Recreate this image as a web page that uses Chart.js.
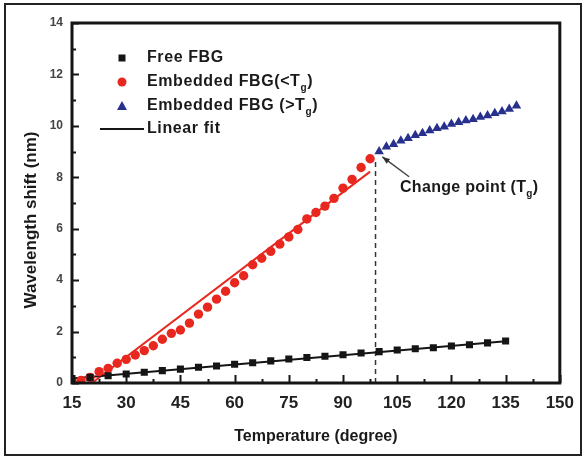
<!DOCTYPE html>
<html>
<head>
<meta charset="utf-8">
<script src="https://cdn.jsdelivr.net/npm/chart.js@4.4.1/dist/chart.umd.min.js"></script>
<style>
html,body{margin:0;padding:0;background:#fff;}
canvas{display:block;}
</style>
</head>
<body>
<canvas id="c" width="584" height="460"></canvas>
<script>
// ---- data ----
const freeT = [15,20,25,30,35,40,45,50,55,60,65,70,75,80,85,90,95,100,105,110,115,120,125,130,135];
const freeShift = [0.17,0.22,0.28,0.35,0.42,0.48,0.54,0.61,0.66,0.73,0.79,0.86,0.93,0.99,1.04,1.10,1.17,1.22,1.28,1.33,1.37,1.44,1.49,1.56,1.63];

const embLowT = [15,17.5,20,22.5,25,27.5,30,32.5,35,37.5,40,42.5,45,47.5,50,52.5,55,57.5,60,62.5,65,67.5,70,72.5,75,77.5,80,82.5,85,87.5,90,92.5,95,97.5];
const embLowShift = [0.05,0.1,0.22,0.44,0.57,0.77,0.92,1.09,1.26,1.45,1.7,1.93,2.06,2.33,2.68,2.95,3.26,3.57,3.9,4.17,4.6,4.85,5.12,5.4,5.68,5.97,6.38,6.63,6.88,7.18,7.58,7.92,8.38,8.72];

const embHighT = [100,102,104,106,108,110,112,114,116,118,120,122,124,126,128,130,132,134,136,138];
const embHighShift = [9.0,9.19,9.28,9.42,9.52,9.63,9.71,9.82,9.91,9.97,10.07,10.14,10.21,10.26,10.34,10.40,10.49,10.56,10.66,10.78];

const fitFreeT = [15,135];
const fitFreeShift = [0.17,1.62];
const fitEmbT = [20.5,97.5];
const fitEmbShift = [0,8.22];

const tgT = [99,99];
const tgShift = [0,8.6];

const arrowT = [108.3,100.9];
const arrowShift = [8.02,8.79];

const xTickLabels = [15,30,45,60,75,90,105,120,135,150];
const yTickLabels = [0,2,4,6,8,10,12,14];

const legendLabels = [
  [{t:'Free FBG'}],
  [{t:'Embedded FBG(<T'},{t:'g',sub:true},{t:')'}],
  [{t:'Embedded FBG (>T'},{t:'g',sub:true},{t:')'}],
  [{t:'Linear fit'}]
];
const annoLabel = [{t:'Change point (T'},{t:'g',sub:true},{t:')'}];

const xTitle = 'Temperature (degree)';
const yTitle = 'Wavelength shift (nm)';

const RED = '#e8281f', BLUE = '#28308e', BLACK = '#151515';
const FONT = '"Liberation Sans", Arial, sans-serif';

function pts(xs, ys){ return xs.map((x,i)=>({x:x, y:ys[i]})); }

function drawRich(ctx, parts, x, y, size){
  ctx.textBaseline = 'middle';
  ctx.textAlign = 'left';
  let cx = x;
  for (const p of parts){
    if (p.sub){
      ctx.font = 'bold ' + Math.round(size*0.6) + 'px ' + FONT;
      ctx.fillText(p.t, cx, y + size*0.4);
    } else {
      ctx.font = 'bold ' + size + 'px ' + FONT;
      ctx.fillText(p.t, cx, y);
    }
    cx += ctx.measureText(p.t).width;
  }
}

const decor = {
  id: 'decor',
  beforeDraw(chart){
    const ctx = chart.ctx;
    ctx.save();
    ctx.fillStyle = '#fff';
    ctx.fillRect(0,0,chart.width,chart.height);
    ctx.restore();
  },
  afterDraw(chart){
    const ctx = chart.ctx;
    const a = chart.chartArea;
    const xs = chart.scales.x, ys = chart.scales.y;
    ctx.save();
    // frame
    ctx.strokeStyle = BLACK;
    ctx.lineWidth = 3;
    ctx.strokeRect(a.left, a.top, a.right - a.left, a.bottom - a.top);
    // inward ticks
    ctx.lineWidth = 2;
    for (let v = 15; v <= 150.01; v += 7.5){
      const px = Math.round(xs.getPixelForValue(v)) + 0.5;
      const major = Math.abs(((v - 15) / 15) - Math.round((v - 15) / 15)) < 1e-6;
      const len = major ? 8 : 4;
      ctx.beginPath(); ctx.moveTo(px, a.bottom); ctx.lineTo(px, a.bottom - len); ctx.stroke();
    }
    for (let v = 0; v <= 14; v += 1){
      const py = Math.round(ys.getPixelForValue(v)) + 0.5;
      const len = (v % 2 === 0) ? 7 : 4;
      ctx.beginPath(); ctx.moveTo(a.left, py); ctx.lineTo(a.left + len, py); ctx.stroke();
    }
    // arrow head
    const tipX = xs.getPixelForValue(arrowT[1]), tipY = ys.getPixelForValue(arrowShift[1]);
    const tailX = xs.getPixelForValue(arrowT[0]), tailY = ys.getPixelForValue(arrowShift[0]);
    const ang = Math.atan2(tipY - tailY, tipX - tailX);
    ctx.fillStyle = '#333';
    ctx.beginPath();
    ctx.moveTo(tipX, tipY);
    ctx.lineTo(tipX - 8*Math.cos(ang - 0.38), tipY - 8*Math.sin(ang - 0.38));
    ctx.lineTo(tipX - 8*Math.cos(ang + 0.38), tipY - 8*Math.sin(ang + 0.38));
    ctx.closePath(); ctx.fill();
    // annotation text
    ctx.fillStyle = '#1a1a1a';
    ctx.letterSpacing = '0.3px';
    drawRich(ctx, annoLabel, 400, 188, 16);
    // legend
    const lx = 122, textX = 147, rows = [58, 82, 106, 129];
    ctx.fillStyle = BLACK;
    ctx.fillRect(lx - 3.5, rows[0] - 3.5, 7, 7);
    ctx.fillStyle = RED;
    ctx.beginPath(); ctx.arc(lx, rows[1], 4.5, 0, Math.PI*2); ctx.fill();
    ctx.fillStyle = BLUE;
    ctx.beginPath();
    ctx.moveTo(lx, rows[2] - 5); ctx.lineTo(lx + 5, rows[2] + 4); ctx.lineTo(lx - 5, rows[2] + 4);
    ctx.closePath(); ctx.fill();
    ctx.strokeStyle = BLACK; ctx.lineWidth = 2;
    ctx.beginPath(); ctx.moveTo(100, rows[3]); ctx.lineTo(144, rows[3]); ctx.stroke();
    ctx.fillStyle = '#1a1a1a';
    ctx.letterSpacing = '0.6px';
    legendLabels.forEach((parts, i) => drawRich(ctx, parts, textX, rows[i], 16));
    ctx.letterSpacing = '0px';
    // axis titles
    ctx.textAlign = 'center'; ctx.textBaseline = 'middle';
    ctx.font = 'bold 16px ' + FONT;
    ctx.fillText(xTitle, (a.left + a.right)/2, 437);
    ctx.save();
    ctx.font = 'bold 17px ' + FONT;
    ctx.translate(31, 220);
    ctx.rotate(-Math.PI/2);
    ctx.fillText(yTitle, 0, 0);
    ctx.restore();
    // outer border
    ctx.strokeStyle = '#222'; ctx.lineWidth = 2;
    ctx.strokeRect(5, 4, 576, 451);
    ctx.restore();
  }
};

new Chart(document.getElementById('c'), {
  type: 'scatter',
  data: {
    datasets: [
      { label: 'Free FBG', data: pts(freeT, freeShift), pointStyle: 'rect', pointRadius: 5, backgroundColor: BLACK, borderColor: BLACK, borderWidth: 0, showLine: false },
      { label: 'Embedded FBG(<Tg)', data: pts(embLowT, embLowShift), pointStyle: 'circle', pointRadius: 4.7, backgroundColor: RED, borderColor: RED, borderWidth: 0, showLine: false },
      { label: 'Embedded FBG (>Tg)', data: pts(embHighT, embHighShift), pointStyle: 'triangle', pointRadius: 5.5, backgroundColor: BLUE, borderColor: BLUE, borderWidth: 0, showLine: false },
      { label: 'Linear fit free', data: pts(fitFreeT, fitFreeShift), showLine: true, pointRadius: 0, borderColor: BLACK, borderWidth: 2 },
      { label: 'Linear fit embedded', data: pts(fitEmbT, fitEmbShift), showLine: true, pointRadius: 0, borderColor: RED, borderWidth: 2 },
      { label: 'Tg', data: pts(tgT, tgShift), showLine: true, pointRadius: 0, borderColor: '#333', borderWidth: 1.5, borderDash: [5,4] },
      { label: 'arrow', data: pts(arrowT, arrowShift), showLine: true, pointRadius: 0, borderColor: '#444', borderWidth: 1.5 }
    ]
  },
  options: {
    responsive: false,
    animation: false,
    devicePixelRatio: 1,
    layout: { padding: { top: 23, right: 23, left: 0, bottom: 0 } },
    plugins: { legend: { display: false }, tooltip: { enabled: false } },
    scales: {
      x: {
        type: 'linear', min: 15, max: 150,
        afterFit: s => { s.height = 77; },
        border: { display: false },
        grid: { display: false, drawTicks: false },
        ticks: { stepSize: 15, padding: 10, color: '#222', font: { family: FONT, size: 17, weight: 'bold' },
                 callback: v => xTickLabels.includes(v) ? String(v) : '' }
      },
      y: {
        min: 0, max: 14,
        afterFit: s => { s.width = 72; },
        border: { display: false },
        grid: { display: false, drawTicks: false },
        ticks: { stepSize: 2, padding: 9, color: '#444', font: { family: FONT, size: 12, weight: 'bold' },
                 callback: v => yTickLabels.includes(v) ? String(v) : '' }
      }
    }
  },
  plugins: [decor]
});
</script>
</body>
</html>
